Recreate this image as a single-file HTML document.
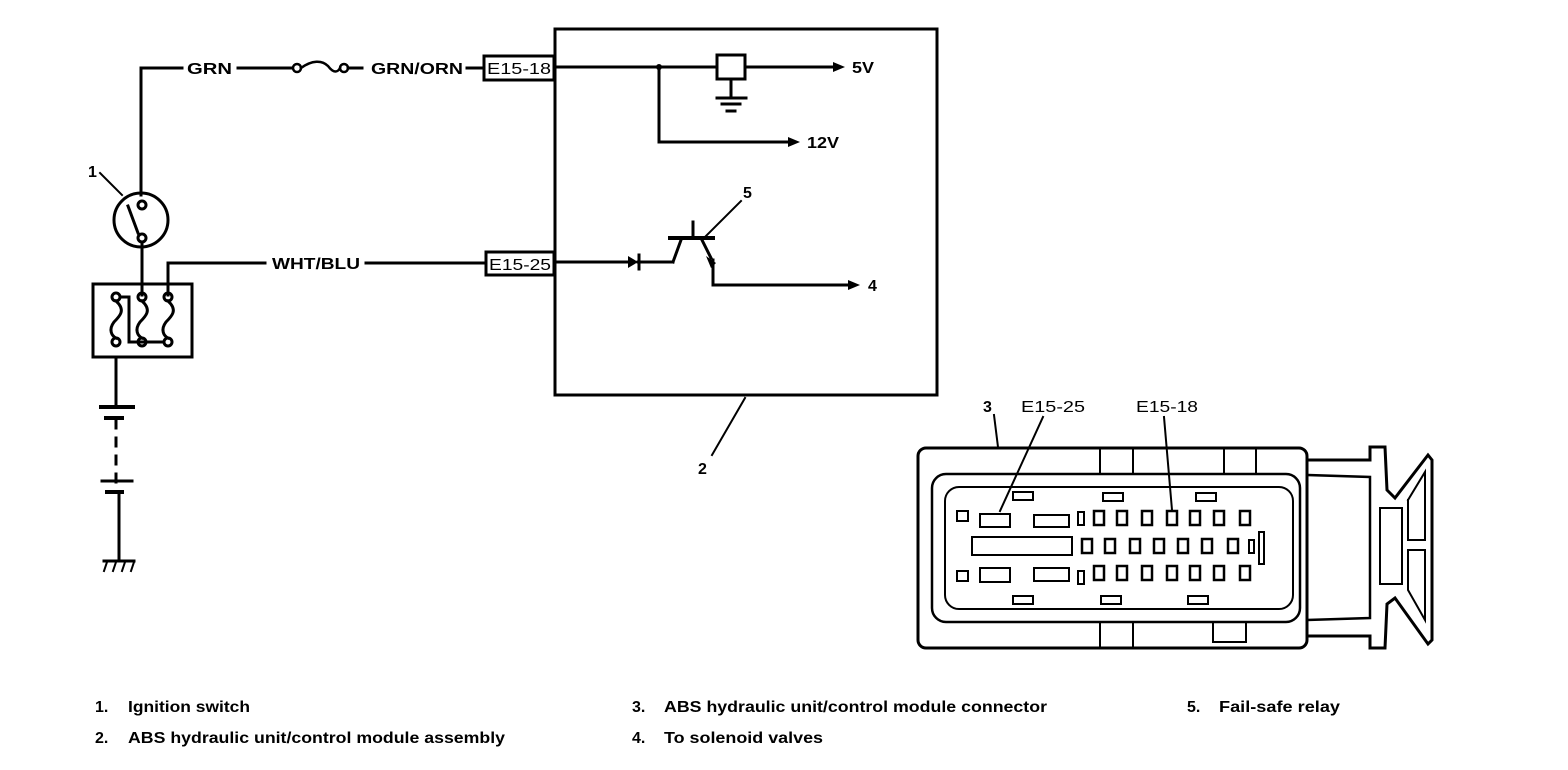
<!DOCTYPE html>
<html><head><meta charset="utf-8"><style>
html,body{margin:0;padding:0;background:#fff;}
svg{display:block;}
text{font-family:"Liberation Sans",Arial,sans-serif;fill:#000;}
</style></head><body>
<svg width="1568" height="770" viewBox="0 0 1568 770" xmlns="http://www.w3.org/2000/svg">
<g fill="none" stroke="#000" stroke-width="3" stroke-linecap="square">
<polyline points="141,195 141,68 182,68"/>
<line x1="238" y1="68" x2="292" y2="68"/>
<circle cx="297" cy="68" r="4" stroke-width="2.5"/>
<path d="M301,68 C312,60 322,60 328,66 C334,74 338,72 340,68" stroke-width="2.5"/>
<circle cx="344" cy="68" r="4" stroke-width="2.5"/>
<line x1="348" y1="68" x2="362" y2="68"/>
<line x1="467" y1="68" x2="483" y2="68"/>
<rect x="484" y="56" width="70" height="24"/>
<rect x="555" y="29" width="382" height="366"/>
<line x1="555" y1="67" x2="717" y2="67"/>
<rect x="717" y="55" width="28" height="24"/>
<line x1="745" y1="67" x2="835" y2="67"/>
<line x1="731" y1="79" x2="731" y2="97"/>
<line x1="717" y1="98" x2="746" y2="98"/>
<line x1="722" y1="104" x2="740" y2="104"/>
<line x1="727" y1="111" x2="735" y2="111"/>
<polyline points="659,67 659,142 790,142"/>
<polyline points="168,295 168,263 265,263"/>
<line x1="366" y1="263" x2="484" y2="263"/>
<rect x="486" y="252" width="68" height="23"/>
<line x1="555" y1="262" x2="628" y2="262"/>
<line x1="638" y1="262" x2="673" y2="262"/>
<line x1="639" y1="255" x2="639" y2="269"/>
<line x1="670" y1="238" x2="713" y2="238" stroke-width="4"/>
<line x1="693" y1="222" x2="693" y2="238"/>
<line x1="681" y1="240" x2="673" y2="262"/>
<line x1="702" y1="240" x2="711" y2="258"/>
<polyline points="713,260 713,285 850,285"/>
<line x1="705" y1="237" x2="741" y2="201" stroke-width="2"/>
<circle cx="141" cy="220" r="27"/>
<circle cx="142" cy="205" r="4"/>
<circle cx="142" cy="238" r="4"/>
<line x1="128" y1="206" x2="138" y2="233"/>
<line x1="100" y1="173" x2="122" y2="195" stroke-width="2"/>
<line x1="142" y1="243" x2="142" y2="295"/>
<rect x="93" y="284" width="99" height="73"/>
<circle cx="116" cy="297" r="4"/><circle cx="142" cy="297" r="4"/><circle cx="168" cy="297" r="4"/>
<circle cx="116" cy="342" r="4"/><circle cx="142" cy="342" r="4"/><circle cx="168" cy="342" r="4"/>
<path d="M116,301 C126,310 120,316 114,322 C108,330 112,336 116,338"/>
<path d="M142,301 C152,310 146,316 140,322 C134,330 138,336 142,338"/>
<path d="M168,301 C178,310 172,316 166,322 C160,330 164,336 168,338"/>
<polyline points="121,297 129,297 129,342 164,342"/>
<line x1="116" y1="357" x2="116" y2="405"/>
<line x1="101" y1="407" x2="133" y2="407" stroke-width="4"/>
<line x1="106" y1="418" x2="122" y2="418" stroke-width="4"/>
<line x1="116" y1="420" x2="116" y2="482" stroke-dasharray="8,10"/>
<line x1="102" y1="481" x2="132" y2="481"/>
<line x1="107" y1="492" x2="122" y2="492" stroke-width="4"/>
<line x1="119" y1="494" x2="119" y2="560"/>
<line x1="104" y1="561" x2="134" y2="561"/>
<line x1="107" y1="562" x2="104" y2="571" stroke-width="2"/>
<line x1="116" y1="562" x2="113" y2="571" stroke-width="2"/>
<line x1="125" y1="562" x2="122" y2="571" stroke-width="2"/>
<line x1="134" y1="562" x2="131" y2="571" stroke-width="2"/>
<line x1="745" y1="398" x2="712" y2="455" stroke-width="2"/>
<rect x="918" y="448" width="389" height="200" rx="8"/>
<rect x="932" y="474" width="368" height="148" rx="14" stroke-width="2.5"/>
<rect x="945" y="487" width="348" height="122" rx="14" stroke-width="2"/>
<line x1="1100" y1="448" x2="1100" y2="474" stroke-width="2"/>
<line x1="1133" y1="448" x2="1133" y2="474" stroke-width="2"/>
<line x1="1224" y1="448" x2="1224" y2="474" stroke-width="2"/>
<line x1="1256" y1="448" x2="1256" y2="474" stroke-width="2"/>
<rect x="1100" y="622" width="33" height="26" stroke-width="2"/>
<rect x="1213" y="622" width="33" height="20" stroke-width="2"/>
<rect x="1013" y="492" width="20" height="8" stroke-width="2"/>
<rect x="1103" y="493" width="20" height="8" stroke-width="2"/>
<rect x="1196" y="493" width="20" height="8" stroke-width="2"/>
<rect x="1013" y="596" width="20" height="8" stroke-width="2"/>
<rect x="1101" y="596" width="20" height="8" stroke-width="2"/>
<rect x="1188" y="596" width="20" height="8" stroke-width="2"/>
<rect x="957" y="511" width="11" height="10" stroke-width="2"/>
<rect x="957" y="571" width="11" height="10" stroke-width="2"/>
<rect x="980" y="514" width="30" height="13" stroke-width="2"/>
<rect x="1034" y="515" width="35" height="12" stroke-width="2"/>
<rect x="972" y="537" width="100" height="18" stroke-width="2"/>
<rect x="980" y="568" width="30" height="14" stroke-width="2"/>
<rect x="1034" y="568" width="35" height="13" stroke-width="2"/>
<rect x="1078" y="512" width="6" height="13" stroke-width="2"/>
<rect x="1078" y="571" width="6" height="13" stroke-width="2"/>
<rect x="1249" y="540" width="5" height="13" stroke-width="2"/>
<rect x="1259" y="532" width="5" height="32" stroke-width="2"/>
<polyline points="1308,460 1370,460 1370,447 1385,447 1387,490 1395,498 1428,455 1432,460 1432,640 1428,644 1395,598 1387,604 1385,648 1370,648 1370,636 1308,636"/>
<polyline points="1308,475 1370,477 1370,618 1308,620" stroke-width="2.5"/>
<rect x="1380" y="508" width="22" height="76" stroke-width="2"/>
<polyline points="1408,500 1425,472 1425,540 1408,540 1408,500" stroke-width="2"/>
<polyline points="1408,550 1425,550 1425,620 1408,590 1408,550" stroke-width="2"/>
<line x1="994" y1="415" x2="998" y2="447" stroke-width="2"/>
<line x1="1043" y1="417" x2="1000" y2="511" stroke-width="2"/>
<line x1="1164" y1="417" x2="1172" y2="510" stroke-width="2"/>
</g>
<g fill="none" stroke="#000" stroke-width="2.5">
<rect x="1094" y="511" width="10" height="14"/><rect x="1117" y="511" width="10" height="14"/><rect x="1142" y="511" width="10" height="14"/><rect x="1167" y="511" width="10" height="14"/><rect x="1190" y="511" width="10" height="14"/><rect x="1214" y="511" width="10" height="14"/><rect x="1240" y="511" width="10" height="14"/>
<rect x="1082" y="539" width="10" height="14"/><rect x="1105" y="539" width="10" height="14"/><rect x="1130" y="539" width="10" height="14"/><rect x="1154" y="539" width="10" height="14"/><rect x="1178" y="539" width="10" height="14"/><rect x="1202" y="539" width="10" height="14"/><rect x="1228" y="539" width="10" height="14"/>
<rect x="1094" y="566" width="10" height="14"/><rect x="1117" y="566" width="10" height="14"/><rect x="1142" y="566" width="10" height="14"/><rect x="1167" y="566" width="10" height="14"/><rect x="1190" y="566" width="10" height="14"/><rect x="1214" y="566" width="10" height="14"/><rect x="1240" y="566" width="10" height="14"/>
</g>
<g fill="#000">
<polygon points="833,62 845,67 833,72"/>
<polygon points="788,137 800,142 788,147"/>
<polygon points="848,280 860,285 848,290"/>
<polygon points="628,256 638,262 628,268"/>
<polygon points="706,256 716,263 711,268"/>
<circle cx="659" cy="67" r="3"/>
</g>
<g font-size="16" font-weight="bold">
<text x="187" y="74" textLength="45" lengthAdjust="spacingAndGlyphs">GRN</text>
<text x="371" y="74" textLength="92" lengthAdjust="spacingAndGlyphs">GRN/ORN</text>
<text x="272" y="269" textLength="88" lengthAdjust="spacingAndGlyphs">WHT/BLU</text>
<text x="852" y="73" textLength="22" lengthAdjust="spacingAndGlyphs">5V</text>
<text x="807" y="148" textLength="32" lengthAdjust="spacingAndGlyphs">12V</text>
<text x="868" y="291">4</text>
<text x="743" y="198">5</text>
<text x="88" y="177">1</text>
<text x="698" y="474">2</text>
<text x="983" y="412">3</text>
</g>
<g font-size="16">
<text x="487" y="74" textLength="64" lengthAdjust="spacingAndGlyphs">E15-18</text>
<text x="489" y="270" textLength="62" lengthAdjust="spacingAndGlyphs">E15-25</text>
<text x="1021" y="412" textLength="64" lengthAdjust="spacingAndGlyphs">E15-25</text>
<text x="1136" y="412" textLength="62" lengthAdjust="spacingAndGlyphs">E15-18</text>
</g>
<g font-size="16" font-weight="bold">
<text x="95" y="712">1.</text><text x="128" y="712" textLength="122" lengthAdjust="spacingAndGlyphs">Ignition switch</text>
<text x="95" y="743">2.</text><text x="128" y="743" textLength="377" lengthAdjust="spacingAndGlyphs">ABS hydraulic unit/control module assembly</text>
<text x="632" y="712">3.</text><text x="664" y="712" textLength="383" lengthAdjust="spacingAndGlyphs">ABS hydraulic unit/control module connector</text>
<text x="632" y="743">4.</text><text x="664" y="743" textLength="159" lengthAdjust="spacingAndGlyphs">To solenoid valves</text>
<text x="1187" y="712">5.</text><text x="1219" y="712" textLength="121" lengthAdjust="spacingAndGlyphs">Fail-safe relay</text>
</g>
</svg>
</body></html>
